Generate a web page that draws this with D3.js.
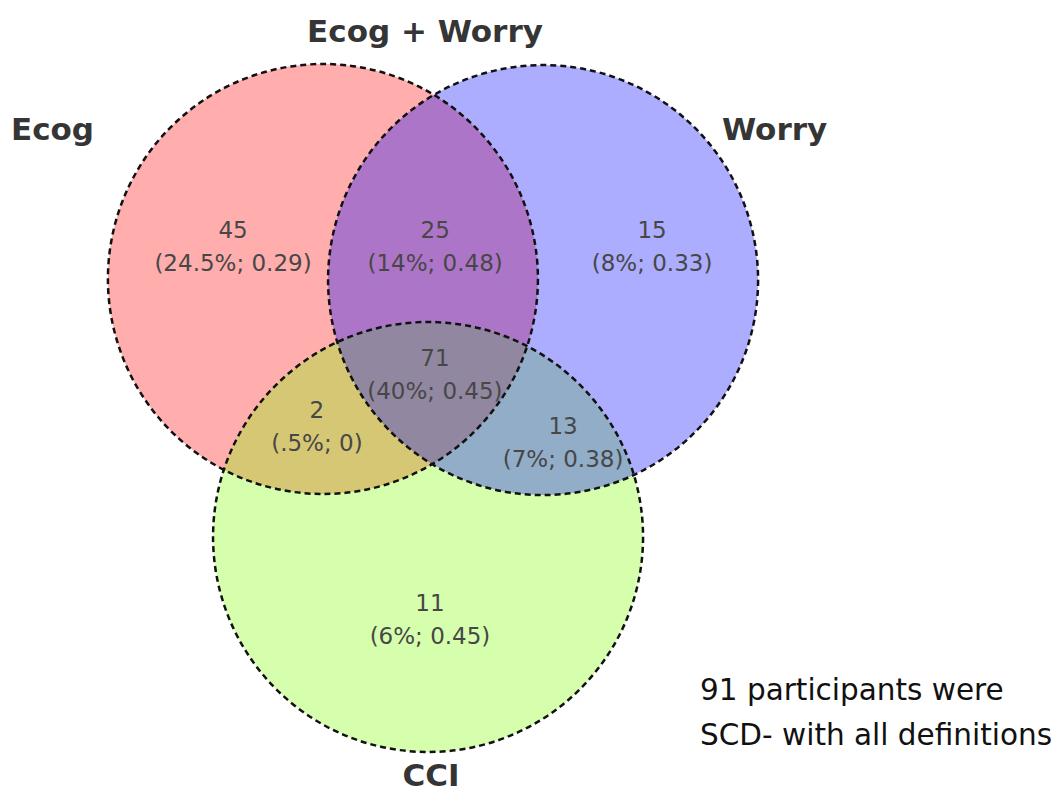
<!DOCTYPE html>
<html>
<head>
<meta charset="utf-8">
<script src="https://cdn.jsdelivr.net/npm/d3@7"></script>
<style>
  body { margin: 0; background: #fff; }
  svg { display: block; }
</style>
</head>
<body>
<svg id="venn" width="1058" height="795"></svg>
<script>
// set names and fills (drawn in this order: Ecog, CCI, Worry)
const setNames = ["Ecog", "CCI", "Worry"];
const setColors = ["#ff0000", "#80ff00", "#0000ff"];

// regions of the diagram
const regionNames = ["Ecog", "Ecog + Worry", "Worry", "All", "Ecog + CCI", "Worry + CCI", "CCI"];
const regionCounts = [45, 25, 15, 71, 2, 13, 11];
const regionPercents = ["24.5%", "14%", "8%", "40%", ".5%", "7%", "6%"];
const regionScores = ["0.29", "0.48", "0.33", "0.45", "0", "0.38", "0.45"];

const noteLines = ["91 participants were", "SCD- with all definitions"];

// layout (unit circles, scaled below)
const circleCenters = { Ecog: [-0.512, -0.40], Worry: [0.512, -0.395], CCI: [-0.023, 0.80] };
const labelAnchors = [
  [-0.93, -0.59], [0.01, -0.59], [1.019, -0.59],
  [0.009, 0.005], [-0.540, 0.247], [0.605, 0.321], [-0.014, 1.145]
];

const svg = d3.select("#venn");
const unit = 215;
const x = d3.scaleLinear().domain([0, 1]).range([433, 433 + unit]);
const y = d3.scaleLinear().domain([0, 1]).range([365, 365 + unit]);

const g = svg.append("g");

// circles
g.selectAll("circle.set")
  .data(setNames)
  .enter()
  .append("circle")
  .attr("class", "set")
  .attr("cx", d => x(circleCenters[d][0]))
  .attr("cy", d => y(circleCenters[d][1]))
  .attr("r", unit)
  .style("fill", (d, i) => setColors[i])
  .style("fill-opacity", 0.32)
  .style("stroke", "none");

// dashed outlines on top
g.selectAll("circle.outline")
  .data(setNames)
  .enter()
  .append("circle")
  .attr("class", "outline")
  .attr("cx", d => x(circleCenters[d][0]))
  .attr("cy", d => y(circleCenters[d][1]))
  .attr("r", unit)
  .style("fill", "none")
  .style("stroke", "#111")
  .style("stroke-width", 2.5)
  .style("stroke-dasharray", "6,4");

// region labels: count and (percent; score)
const labels = g.selectAll("text.region")
  .data(regionCounts)
  .enter()
  .append("text")
  .attr("class", "region")
  .attr("text-anchor", "middle")
  .style("font-family", "'DejaVu Sans', sans-serif")
  .style("font-size", "23px")
  .style("fill", "#474747");

labels.append("tspan")
  .attr("x", (d, i) => x(labelAnchors[i][0]))
  .attr("y", (d, i) => y(labelAnchors[i][1]))
  .text(d => d);

labels.append("tspan")
  .attr("x", (d, i) => x(labelAnchors[i][0]))
  .attr("y", (d, i) => y(labelAnchors[i][1]) + 33)
  .text((d, i) => "(" + regionPercents[i] + "; " + regionScores[i] + ")");

// set titles
const titles = [
  {text: "Ecog + Worry", x: 425, y: 42, anchor: "middle"},
  {text: "Ecog", x: 11, y: 140, anchor: "start"},
  {text: "Worry", x: 722, y: 140, anchor: "start"},
  {text: "CCI", x: 431, y: 786, anchor: "middle"}
];
svg.selectAll("text.title")
  .data(titles)
  .enter()
  .append("text")
  .attr("class", "title")
  .attr("x", d => d.x)
  .attr("y", d => d.y)
  .attr("text-anchor", d => d.anchor)
  .style("font-family", "'DejaVu Sans', sans-serif")
  .style("font-weight", "bold")
  .style("font-size", "31px")
  .style("fill", "#353535")
  .text(d => d.text);

// note
svg.selectAll("text.note")
  .data(noteLines)
  .enter()
  .append("text")
  .attr("class", "note")
  .attr("x", 700)
  .attr("y", (d, i) => 700 + i * 45)
  .style("font-family", "'DejaVu Sans', sans-serif")
  .style("font-size", "29.5px")
  .style("fill", "#111")
  .text(d => d);
</script>
</body>
</html>
